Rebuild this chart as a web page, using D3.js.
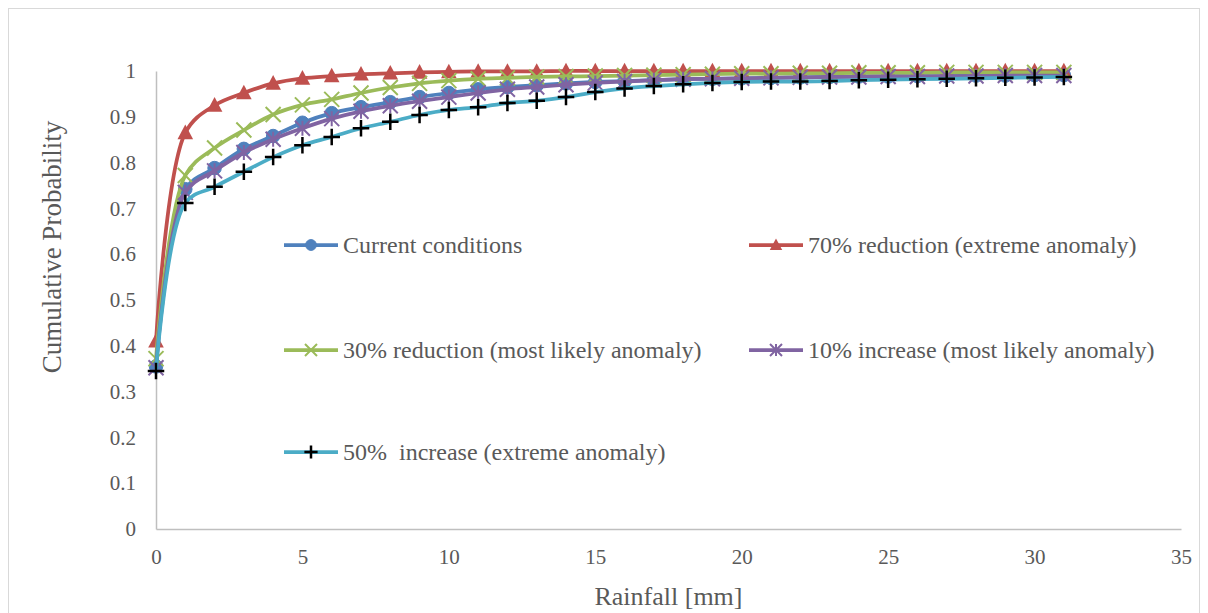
<!DOCTYPE html>
<html>
<head>
<meta charset="utf-8">
<script src="https://cdn.jsdelivr.net/npm/d3@7/dist/d3.min.js"></script>
<style>
  html, body { margin: 0; padding: 0; background: #fff; }
  svg { display: block; }
  svg text { font-family: "Times New Roman", "Liberation Serif", Tinos, Times, "DejaVu Serif", "Noto Serif", serif !important; fill: #595959; white-space: pre; }
</style>
</head>
<body>
<svg id="chart" width="1208" height="613"></svg>
<script>
// Rainfall amounts [mm]
const rainfall = d3.range(0, 32);

// Cumulative probability per scenario
const currentConditions = [0.355, 0.742, 0.788, 0.830, 0.858, 0.887, 0.908, 0.921, 0.932, 0.943, 0.952, 0.960, 0.965, 0.969, 0.973, 0.976, 0.978, 0.980, 0.982, 0.983, 0.984, 0.985, 0.986, 0.987, 0.988, 0.988, 0.989, 0.989, 0.990, 0.990, 0.991, 0.991];
const reduction70 = [0.410, 0.865, 0.925, 0.952, 0.973, 0.984, 0.989, 0.993, 0.995, 0.997, 0.998, 0.999, 0.999, 0.999, 1.000, 1.000, 1.000, 1.000, 1.000, 1.000, 1.000, 1.000, 1.000, 1.000, 1.000, 1.000, 1.000, 1.000, 1.000, 1.000, 1.000, 1.000];
const reduction30 = [0.372, 0.772, 0.832, 0.871, 0.905, 0.926, 0.938, 0.952, 0.964, 0.973, 0.979, 0.983, 0.985, 0.987, 0.988, 0.989, 0.990, 0.991, 0.992, 0.993, 0.994, 0.994, 0.995, 0.995, 0.996, 0.996, 0.996, 0.997, 0.997, 0.997, 0.997, 0.997];
const increase10 = [0.352, 0.735, 0.782, 0.822, 0.851, 0.875, 0.896, 0.912, 0.924, 0.934, 0.943, 0.952, 0.960, 0.965, 0.970, 0.974, 0.977, 0.980, 0.982, 0.983, 0.984, 0.985, 0.986, 0.987, 0.987, 0.988, 0.988, 0.989, 0.989, 0.990, 0.990, 0.990];
const increase50 = [0.345, 0.712, 0.747, 0.780, 0.812, 0.838, 0.856, 0.875, 0.889, 0.904, 0.915, 0.921, 0.930, 0.935, 0.943, 0.954, 0.962, 0.967, 0.971, 0.974, 0.976, 0.977, 0.977, 0.978, 0.980, 0.981, 0.982, 0.983, 0.984, 0.985, 0.986, 0.987];

const seriesNames = [
  "Current conditions",
  "70% reduction (extreme anomaly)",
  "30% reduction (most likely anomaly)",
  "10% increase (most likely anomaly)",
  "50%  increase (extreme anomaly)"
];

const xTicks = [0, 5, 10, 15, 20, 25, 30, 35];
const yTicks = [0, 0.1, 0.2, 0.3, 0.4, 0.5, 0.6, 0.7, 0.8, 0.9, 1];

const series = [
  { name: seriesNames[0], values: currentConditions, color: "#4F81BD", marker: "circle" },
  { name: seriesNames[1], values: reduction70, color: "#C0504D", marker: "triangle" },
  { name: seriesNames[2], values: reduction30, color: "#9BBB59", marker: "x" },
  { name: seriesNames[3], values: increase10, color: "#8064A2", marker: "star" },
  { name: seriesNames[4], values: increase50, color: "#4BACC6", marker: "plus" }
];

const svg = d3.select("#chart");

// chart frame
svg.append("rect")
  .attr("x", 8.5).attr("y", 8.5)
  .attr("width", 1191).attr("height", 610)
  .attr("fill", "#fff").attr("stroke", "#d9d9d9").attr("stroke-width", 1);

const plot = { left: 156, right: 1181, top: 71, bottom: 529 };

const x = d3.scaleLinear().domain([0, 35]).range([plot.left, plot.right]);
const y = d3.scaleLinear().domain([0, 1]).range([plot.bottom, plot.top]);

// axes
const xAxis = d3.axisBottom(x).tickValues(xTicks).tickSize(0).tickPadding(20).tickFormat(d3.format("d"));
const yAxis = d3.axisLeft(y).tickValues(yTicks).tickSize(0).tickPadding(20).tickFormat(d => d === 0 || d === 1 ? String(d) : d3.format(".1f")(d));

const gx = svg.append("g").attr("transform", `translate(0,${plot.bottom})`).call(xAxis);
const gy = svg.append("g").attr("transform", `translate(${plot.left},0)`).call(yAxis);

[gx, gy].forEach(g => {
  g.attr("font-family", null);
  g.select(".domain").attr("stroke", "#bfbfbf").attr("stroke-width", 1.5);
  g.selectAll("text").attr("font-size", 21).attr("fill", "#595959");
});

// axis titles
svg.append("text")
  .attr("x", (plot.left + plot.right) / 2).attr("y", 605)
  .attr("text-anchor", "middle").attr("font-size", 26)
  .text("Rainfall [mm]");

svg.append("text")
  .attr("transform", `translate(61,247) rotate(-90)`)
  .attr("text-anchor", "middle").attr("font-size", 27)
  .text("Cumulative Probability");

// marker shapes
function drawMarker(g, kind, color, size) {
  const s = size;
  if (kind === "circle") {
    g.append("circle").attr("r", s * 0.45).attr("fill", color).attr("stroke", color).attr("stroke-width", 1);
  } else if (kind === "triangle") {
    g.append("path").attr("d", `M0,${-s * 0.55}L${s * 0.52},${s * 0.42}L${-s * 0.52},${s * 0.42}Z`).attr("fill", color);
  } else if (kind === "x") {
    const h = s * 0.5;
    g.append("path").attr("d", `M${-h},${-h}L${h},${h}M${-h},${h}L${h},${-h}`)
      .attr("stroke", color).attr("stroke-width", 2).attr("fill", "none");
  } else if (kind === "star") {
    const h = s * 0.5;
    g.append("path").attr("d", `M${-h},${-h}L${h},${h}M${-h},${h}L${h},${-h}M0,${-h}L0,${h}`)
      .attr("stroke", color).attr("stroke-width", 2).attr("fill", "none");
  } else if (kind === "plus") {
    const h = s * 0.55;
    g.append("path").attr("d", `M${-h},0L${h},0M0,${-h}L0,${h}`)
      .attr("stroke", "#000").attr("stroke-width", 2.5).attr("fill", "none");
  }
}

const line = d3.line()
  .x((d, i) => x(rainfall[i]))
  .y(d => y(d))
  .curve(d3.curveCatmullRom.alpha(0.5));

series.forEach(s => {
  const g = svg.append("g");
  g.append("path")
    .attr("d", line(s.values))
    .attr("fill", "none")
    .attr("stroke", s.color)
    .attr("stroke-width", 3.75)
    .attr("stroke-linejoin", "round")
    .attr("stroke-linecap", "round");
  s.values.forEach((v, i) => {
    const m = g.append("g").attr("transform", `translate(${x(rainfall[i])},${y(v)})`);
    drawMarker(m, s.marker, s.color, 15);
  });
});

// legend
const legendPos = [
  { lx: 284, ty: 245 },
  { lx: 749, ty: 245 },
  { lx: 284, ty: 350 },
  { lx: 749, ty: 350 },
  { lx: 284, ty: 452 }
];

series.forEach((s, i) => {
  const p = legendPos[i];
  const g = svg.append("g").attr("transform", `translate(${p.lx},${p.ty})`);
  g.append("line").attr("x1", 0).attr("x2", 54).attr("y1", 0).attr("y2", 0)
    .attr("stroke", s.color).attr("stroke-width", 3.75);
  const m = g.append("g").attr("transform", "translate(27,0)");
  drawMarker(m, s.marker, s.color, 12);
  g.append("text").attr("x", 59).attr("y", 0).attr("dy", "0.35em")
    .attr("font-size", 24).text(s.name);
});
</script>
</body>
</html>
